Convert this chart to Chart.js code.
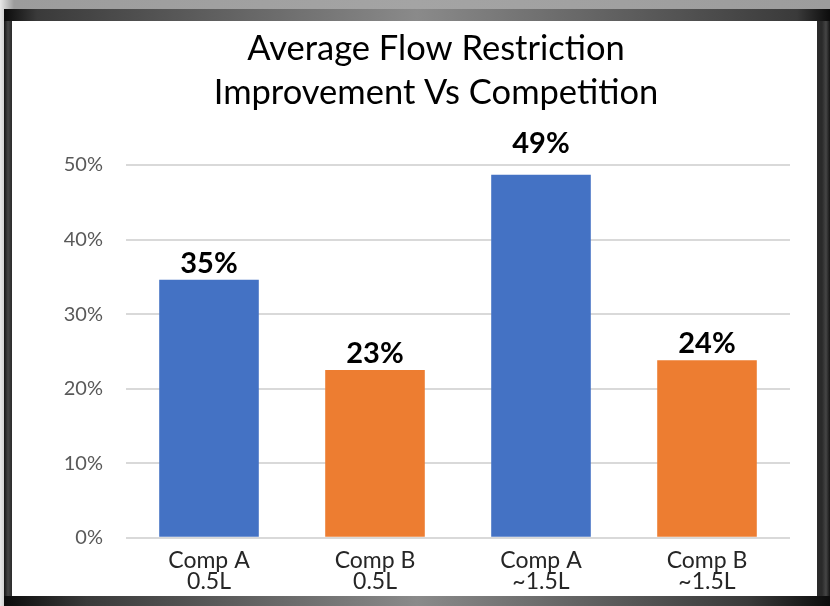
<!DOCTYPE html>
<html>
<head>
<meta charset="utf-8">
<script src="https://cdn.jsdelivr.net/npm/chart.js@4"></script>
<style>
  html, body { margin: 0; padding: 0; }
  body {
    width: 830px; height: 606px; overflow: hidden; position: relative;
    background: linear-gradient(to right, #e8e8e8 0px, #9c9c9c 14px, #a4a4a4 50%, #9c9c9c 100%);
  }
  #frame {
    position: absolute; left: 4px; top: 9px; width: 826px; height: 597px;
    background: linear-gradient(to right, #0c0c0c 0%, #3a3a3a 4%, #8a8a8a 50%, #3a3a3a 96%, #0c0c0c 100%);
  }
  #frameSides {
    position: absolute; left: 4px; top: 21px; width: 826px; height: 585px;
    background: linear-gradient(to right, #141414 0px, #454545 4px, #2a2a2a 8px, #2a2a2a 818px, #454545 822px, #141414 826px);
  }
  #frameBottom {
    position: absolute; left: 4px; top: 596px; width: 826px; height: 10px;
    background: linear-gradient(to right, #0c0c0c 0%, #3a3a3a 10%, #8a8a8a 50%, #3a3a3a 90%, #0c0c0c 100%);
  }
  #panel {
    position: absolute; left: 12px; top: 21px; width: 805px; height: 575px; background: #ffffff;
  }
</style>
</head>
<body>
<div id="frame"></div>
<div id="frameSides"></div>
<div id="frameBottom"></div>
<div id="panel"><canvas id="myChart" width="805" height="575"></canvas></div>
<script>
const categories = [["Comp A", "0.5L"], ["Comp B", "0.5L"], ["Comp A", "~1.5L"], ["Comp B", "~1.5L"]];
const improvement = [34.6, 22.5, 48.7, 23.8];
const valueLabels = ["35%", "23%", "49%", "24%"];
const barColors = ["#4472C4", "#ED7D31", "#4472C4", "#ED7D31"];
const titleLines = ["Average Flow Restriction", "Improvement Vs Competition"];
const yTicks = [0, 10, 20, 30, 40, 50];

const font = "Lato, 'Open Sans', sans-serif";

// title is centred a bit left of the plot, like the original slide
const chartTitle = {
    id: 'chartTitle',
    afterDraw(chart) {
        const ctx = chart.ctx;
        ctx.save();
        ctx.font = "34.5px " + font;
        ctx.fillStyle = "#000000";
        ctx.textAlign = "center";
        ctx.textBaseline = "alphabetic";
        ctx.fillText(titleLines[0], 424, 39);
        ctx.fillText(titleLines[1], 424, 83);
        ctx.restore();
    }
};

// bold % labels just above each bar; if one would cross the top gridline it sits above it
const barLabels = {
    id: 'barLabels',
    afterDatasetsDraw(chart) {
        const ctx = chart.ctx;
        const meta = chart.getDatasetMeta(0);
        const top = chart.scales.y.top;
        ctx.save();
        ctx.font = "bold 29px " + font;
        ctx.fillStyle = "#000000";
        ctx.textAlign = "center";
        ctx.textBaseline = "alphabetic";
        meta.data.forEach((bar, i) => {
            let y = bar.y - 7;
            if (y - 22 < top) y = top - 12;
            ctx.fillText(valueLabels[i], bar.x, y);
        });
        ctx.restore();
    }
};

new Chart(document.getElementById('myChart'), {
    type: 'bar',
    data: {
        labels: categories,
        datasets: [{
            data: improvement,
            backgroundColor: barColors,
            categoryPercentage: 0.6,
            barPercentage: 1.0
        }]
    },
    options: {
        responsive: false,
        animation: false,
        layout: { padding: { left: 0, right: 27, top: 144, bottom: 0 } },
        plugins: {
            legend: { display: false },
            tooltip: { enabled: false },
            title: { display: false }
        },
        scales: {
            x: {
                grid: { display: false },
                border: { display: false },
                ticks: {
                    color: "#262626",
                    font: { family: font, size: 23, lineHeight: 0.92 },
                    padding: 4,
                    maxRotation: 0
                }
            },
            y: {
                min: 0,
                max: 50,
                afterFit(scale) { scale.width = 114; },
                afterBuildTicks(scale) { scale.ticks = yTicks.map(v => ({ value: v })); },
                grid: { color: "#d9d9d9", lineWidth: 2, drawTicks: false },
                border: { display: false },
                ticks: {
                    color: "#595959",
                    font: { family: font, size: 20 },
                    padding: 23,
                    callback: v => v + "%"
                }
            }
        }
    },
    plugins: [barLabels, chartTitle]
});
</script>
</body>
</html>
